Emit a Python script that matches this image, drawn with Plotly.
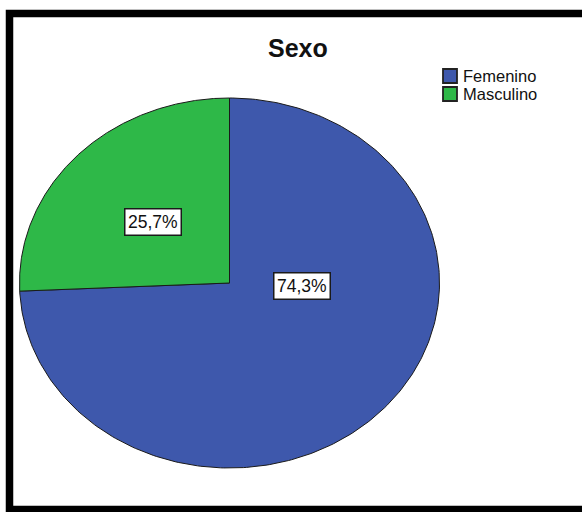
import numpy as np
import plotly.graph_objects as go

# Data
categories = ["Femenino", "Masculino"]
percentages = [74.3, 25.7]
colors = ["#3E58AC", "#2EB848"]
title_text = "Sexo"

# Canvas geometry (pixel units on hidden axes)
W, H = 582, 512
cx, cy = 229.5, 283.0
rx, ry = 210.0, 185.0
label_pos = {"Femenino": (302, 286), "Masculino": (152.5, 222)}

fig = go.Figure()

# Elliptical pie: slices start at 12 o'clock and run clockwise
start = 90.0
total = sum(percentages)
for cat, pct, col in zip(categories, percentages, colors):
    sweep = 360.0 * pct / total
    theta = np.radians(np.linspace(start, start - sweep, 300))
    xs = np.concatenate([[cx], cx + rx * np.cos(theta), [cx]])
    ys = np.concatenate([[cy], cy - ry * np.sin(theta), [cy]])
    fig.add_trace(go.Scatter(
        x=xs, y=ys, mode="lines", fill="toself", fillcolor=col,
        line=dict(color="#1a1a1a", width=1), name=cat,
        hoverinfo="name", showlegend=False,
    ))
    start -= sweep

# Percentage labels in white boxes
for cat, pct in zip(categories, percentages):
    lx, ly = label_pos[cat]
    fig.add_annotation(
        x=lx, y=ly, xref="x", yref="y", showarrow=False,
        text=f"{pct:.1f}%".replace(".", ","),
        font=dict(family="Liberation Sans, Arial, sans-serif", size=17.5, color="#111"),
        bgcolor="white", bordercolor="#1a1a1a", borderwidth=1.5, borderpad=2.5,
    )

# Legend drawn as swatches + text
leg_x, leg_y, step, box = 443, 69, 18, 14
for i, (cat, col) in enumerate(zip(categories, colors)):
    y0 = leg_y + i * step
    fig.add_shape(type="rect", xref="x", yref="y",
                  x0=leg_x, x1=leg_x + box, y0=y0, y1=y0 + box,
                  fillcolor=col, line=dict(color="#222", width=1.8))
    fig.add_annotation(
        x=leg_x + box + 4, y=y0 + box / 2, xref="x", yref="y",
        xanchor="left", yanchor="middle", showarrow=False, text=cat,
        font=dict(family="Liberation Sans, Arial, sans-serif", size=16.5, color="#111"),
    )

# Title
fig.add_annotation(
    x=298, y=48, xref="x", yref="y", showarrow=False, text=f"<b>{title_text}</b>",
    font=dict(family="Liberation Sans, Arial, sans-serif", size=25, color="#111"),
)

# Thick black frame
fig.add_shape(type="rect", xref="x", yref="y", x0=9.5, x1=620, y0=13.5, y1=509.5,
              line=dict(color="black", width=7.5), fillcolor="rgba(0,0,0,0)")

fig.update_layout(
    width=W, height=H, margin=dict(l=0, r=0, t=0, b=0),
    paper_bgcolor="white", plot_bgcolor="white", showlegend=False,
    xaxis=dict(range=[0, W], visible=False, fixedrange=True),
    yaxis=dict(range=[H, 0], visible=False, fixedrange=True),
)

fig.write_html("out.html")
